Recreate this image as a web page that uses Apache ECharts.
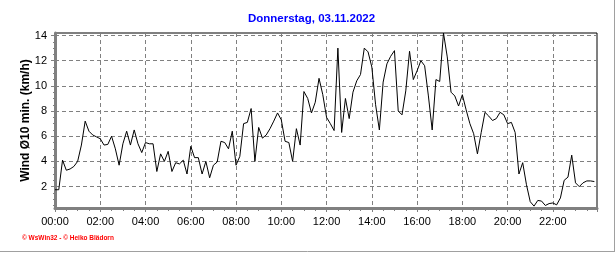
<!DOCTYPE html>
<html><head><meta charset="utf-8">
<script src="https://cdn.jsdelivr.net/npm/echarts@6/dist/echarts.min.js"></script>
<style>html,body{margin:0;padding:0;background:#fff}#c{width:616px;height:253px}</style>
</head><body><div id="c"></div>
<script>
const titleText = 'Donnerstag, 03.11.2022';
const yAxisName = 'Wind Ø10 min. (km/h)';
const footerText = '© WsWin32 - © Heiko Blädorn';
const stepMinutes = 10;
const windValues = [
  1.75,1.75,4.1,3.3,3.4,3.6,4.0,5.3,7.2,6.4,6.1,5.95,
  5.8,5.3,5.35,6.0,5.0,3.7,5.4,6.4,5.3,6.5,5.4,4.7,
  5.5,5.4,5.4,3.2,4.6,4.0,4.8,3.2,3.9,3.8,4.1,3.0,
  5.2,4.3,4.3,3.0,4.0,2.7,3.7,3.95,5.6,5.5,5.0,6.4,
  3.7,4.4,7.0,7.1,8.2,4.0,6.7,5.85,6.1,6.6,7.2,7.85,
  7.3,5.6,5.5,4.0,6.6,5.3,9.55,9.0,7.85,8.7,10.6,9.3,
  7.5,7.0,6.45,13.0,6.3,9.0,7.4,9.5,10.4,10.9,13.0,12.7,
  11.5,8.5,6.5,10.3,11.75,12.35,12.8,8.0,7.7,9.6,12.75,10.5,
  11.2,12.0,11.6,9.2,6.5,10.5,10.35,14.2,12.3,9.5,9.2,8.4,
  9.3,8.1,7.0,6.2,4.6,6.3,7.9,7.6,7.25,7.4,7.9,7.7,
  7.0,7.1,6.3,3.0,3.9,2.15,0.8,0.45,0.9,0.85,0.5,0.65,
  0.7,0.55,1.1,2.5,2.75,4.5,2.3,2.0,2.3,2.45,2.45,2.4
];
const yTickValues = [2,4,6,8,10,12,14];
const yMinorTickValues = [0.5,1,1.5,2,2.5,3,3.5,4,4.5,5,5.5,6,6.5,7,7.5,8,8.5,9,9.5,10,10.5,11,11.5,12,12.5,13,13.5,14];
const yMin = 0.3, yMax = 14.2;
const xMin = 0, xMax = 1437, xInterval = 120;

const points = windValues.map((v, i) => [i * stepMinutes, v]);
const fmtHour = v => String(Math.round(v / 60)).padStart(2, '0') + ':00';
const grey = '#808080';
const font = 'Liberation Sans, Arial, sans-serif';

const chart = echarts.init(document.getElementById('c'), null, {renderer: 'canvas'});
chart.setOption({
  animation: false,
  backgroundColor: '#fff',
  grid: {left: 55, right: 19, top: 33, bottom: 45, show: true, borderColor: '#000', borderWidth: 1, backgroundColor: 'transparent'},
  xAxis: {
    type: 'value', min: xMin, max: xMax, interval: xInterval,
    axisLine: {show: true, onZero: false, lineStyle: {color: grey, width: 3}},
    axisTick: {show: true, length: 4, lineStyle: {color: grey, width: 1}},
    minorTick: {show: true, splitNumber: 4, length: 3, lineStyle: {color: grey, width: 1}},
    axisLabel: {formatter: fmtHour, color: '#000', fontSize: 11, fontFamily: font, margin: 8, showMaxLabel: false},
    splitLine: {show: true, lineStyle: {color: grey, type: [4, 3], width: 1}}
  },
  yAxis: [{
    type: 'value', min: yMin, max: yMax,
    name: yAxisName, nameLocation: 'middle', nameGap: 23, nameMoveOverlap: false,
    nameTextStyle: {color: '#000', fontWeight: 'bold', fontSize: 12, fontFamily: font},
    axisLine: {show: true, onZero: false, lineStyle: {color: grey, width: 3}},
    axisTick: {show: true, length: 4, customValues: yTickValues, lineStyle: {color: grey, width: 1}},
    axisLabel: {customValues: yTickValues, color: '#000', fontSize: 11, fontFamily: font, margin: 8},
    splitLine: {show: true, lineStyle: {color: grey, type: [4, 3], width: 1}}
  }, {
    type: 'value', min: yMin, max: yMax, position: 'left',
    axisLine: {show: false},
    axisTick: {show: true, length: 2, customValues: yMinorTickValues, lineStyle: {color: grey, width: 1}},
    axisLabel: {show: false},
    splitLine: {show: false}
  }],
  series: [{
    type: 'line', data: points, yAxisIndex: 0, showSymbol: false, symbol: 'none',
    lineStyle: {color: '#000', width: 1}, z: 5
  }],
  graphic: [
    {type: 'text', x: 311.5, y: 19, style: {text: titleText, fill: '#0000ff', font: 'bold 11.5px ' + font, textAlign: 'center', textVerticalAlign: 'middle'}},
    {type: 'text', x: 22, y: 238.5, style: {text: footerText, fill: '#ff0000', font: 'bold 6.5px ' + font, textAlign: 'left', textVerticalAlign: 'middle'}},
    {type: 'line', shape: {x1: 614.5, y1: 0, x2: 614.5, y2: 252}, style: {stroke: '#a0a0a0', lineWidth: 1}},
    {type: 'line', shape: {x1: 0, y1: 251.5, x2: 615, y2: 251.5}, style: {stroke: '#a0a0a0', lineWidth: 1}}
  ]
});
</script></body></html>
